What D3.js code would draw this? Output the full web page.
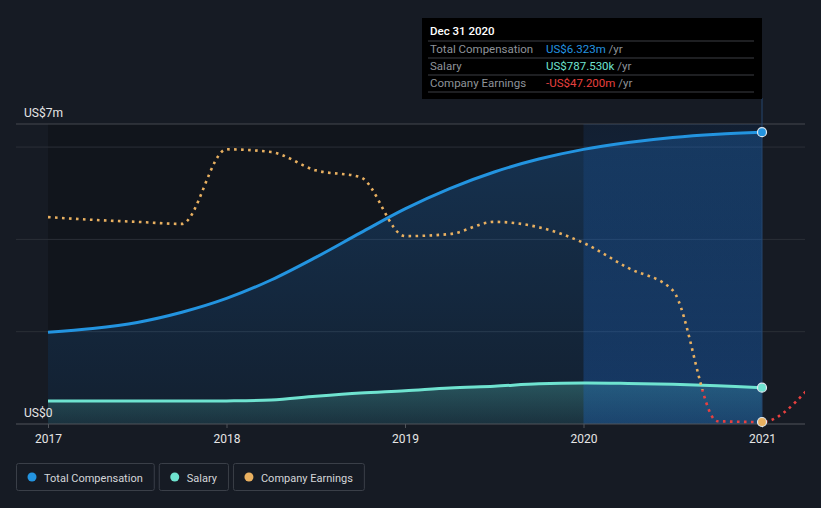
<!DOCTYPE html>
<html><head><meta charset="utf-8">
<script src="https://cdn.jsdelivr.net/npm/d3@7"></script>
<style>
html,body{margin:0;padding:0;background:#161b24;}
svg{display:block;font-family:Roboto,"Noto Sans",sans-serif;}
</style></head>
<body><svg id="c" width="821" height="508"></svg>
<script>
// ---- data ----
const quarters = [2017.00,2017.25,2017.50,2017.75,2018.00,2018.25,2018.50,2018.75,2019.00,2019.25,2019.50,2019.75,2020.00,2020.25,2020.50,2020.75,2021.00];
const totalComp = [1.99,2.07,2.20,2.42,2.72,3.12,3.61,4.14,4.66,5.10,5.46,5.74,5.95,6.10,6.21,6.28,6.323];
const salary = [0.50,0.50,0.50,0.50,0.50,0.52,0.60,0.67,0.72,0.78,0.82,0.87,0.89,0.88,0.86,0.83,0.7875];
const earnQuarters = [2017.00,2017.25,2017.50,2017.75,2018.00,2018.25,2018.50,2018.75,2019.00,2019.25,2019.50,2019.75,2020.00,2020.25,2020.50,2020.75,2021.00,2021.25];
const earnings = [255,251,248,245,355,351,324,314,227,230,248,240,217,180,147,-46,-47.2,-1];
const xTicks = [2017,2018,2019,2020,2021];
const yGrid = [0,2,4,6,6.5];
const yTickLabels = [{v:6.5,t:"US$7m"},{v:0,t:"US$0"}];
const legendItems = [{name:"Total Compensation",color:"#2394e0"},{name:"Salary",color:"#6fe3d0"},{name:"Company Earnings",color:"#e9b060"}];
const tooltipTitle = "Dec 31 2020";
const tooltipRows = [
  {label:"Total Compensation", value:"US$6.323m", color:"#2394e0"},
  {label:"Salary", value:"US$787.530k", color:"#6fe3d0"},
  {label:"Company Earnings", value:"-US$47.200m", color:"#e8403f"}
];

// ---- layout ----
const svg = d3.select("#c");
const x = d3.scaleLinear().domain([2017,2021]).range([48,762]);
const y = d3.scaleLinear().domain([0,6.5]).range([424,124]);
const yE = d3.scaleLinear().domain([-47.2,0]).range([422,390]);
const left = 16, right = 805;

const defs = svg.append("defs");
const gTot = defs.append("linearGradient").attr("id","gTot").attr("x1",0).attr("y1",0).attr("x2",0).attr("y2",1);
gTot.append("stop").attr("offset","0%").attr("stop-color","#1f6fc0").attr("stop-opacity",0.32);
gTot.append("stop").attr("offset","100%").attr("stop-color","#1f6fc0").attr("stop-opacity",0.12);
const gSal = defs.append("linearGradient").attr("id","gSal").attr("x1",0).attr("y1",0).attr("x2",0).attr("y2",1);
gSal.append("stop").attr("offset","0%").attr("stop-color","#5fd6c6").attr("stop-opacity",0.28);
gSal.append("stop").attr("offset","100%").attr("stop-color","#5fd6c6").attr("stop-opacity",0.1);
const gHi = defs.append("linearGradient").attr("id","gHi").attr("x1",0).attr("y1",0).attr("x2",0).attr("y2",1);
gHi.append("stop").attr("offset","0%").attr("stop-color","#1c6ad0").attr("stop-opacity",0.12);
gHi.append("stop").attr("offset","100%").attr("stop-color","#1c6ad0").attr("stop-opacity",0.32);
const zeroY = yE(0);
const gE = defs.append("linearGradient").attr("id","gE").attr("gradientUnits","userSpaceOnUse")
  .attr("x1",0).attr("x2",0).attr("y1",100).attr("y2",440);
const f = (zeroY-100)/340;
gE.append("stop").attr("offset",0).attr("stop-color","#e9b060");
gE.append("stop").attr("offset",f).attr("stop-color","#e9b060");
gE.append("stop").attr("offset",f).attr("stop-color","#e8403f");
gE.append("stop").attr("offset",1).attr("stop-color","#e8403f");
defs.append("clipPath").attr("id","clip").append("rect").attr("x",left).attr("y",100).attr("width",right-left).attr("height",330);

// plot background
svg.append("rect").attr("x",x(2017)).attr("y",y(6.5)).attr("width",x(2021)-x(2017)).attr("height",y(0)-y(6.5)).attr("fill","#11151c");

// grid
svg.append("g").selectAll("line").data(yGrid.filter(v=>v>0)).join("line")
  .attr("x1",left).attr("x2",right).attr("y1",d=>y(d)).attr("y2",d=>y(d))
  .attr("stroke",d=>d===6.5?"#44484f":"#2b2f37").attr("stroke-width",1);

const totData = quarters.map((q,i)=>({x:q,v:totalComp[i]}));
const salData = quarters.map((q,i)=>({x:q,v:salary[i]}));
const earnData = earnQuarters.map((q,i)=>({x:q,v:earnings[i]}));

const curve = d3.curveCatmullRom.alpha(0.5);
const curveE = d3.curveMonotoneX;
svg.append("path").datum(totData).attr("fill","url(#gTot)")
  .attr("d",d3.area().x(d=>x(d.x)).y0(y(0)).y1(d=>y(d.v)).curve(curve));
svg.append("path").datum(salData).attr("fill","url(#gSal)")
  .attr("d",d3.area().x(d=>x(d.x)).y0(y(0)).y1(d=>y(d.v)).curve(curve));

// highlight
svg.append("rect").attr("x",x(2020)).attr("y",y(6.5)).attr("width",x(2021)-x(2020)).attr("height",y(0)-y(6.5)).attr("fill","url(#gHi)");

// baseline axis
const xAxis = d3.axisBottom(x).tickValues(xTicks).tickFormat(d3.format("d")).tickSize(4).tickPadding(6);
const ax = svg.append("g").attr("transform",`translate(0,${y(0)})`).call(xAxis);
ax.select(".domain").remove();
ax.selectAll(".tick line").attr("stroke","#50545b");
ax.selectAll(".tick text").attr("fill","#e6e6e6").attr("font-size",12).attr("font-family","Roboto,sans-serif");
svg.append("line").attr("x1",left).attr("x2",right).attr("y1",y(0)).attr("y2",y(0)).attr("stroke","#50545b");

// y labels
svg.append("g").selectAll("text").data(yTickLabels).join("text")
  .attr("x",24).attr("y",d=>y(d.v)-7).attr("fill","#e6e6e6").attr("font-size",12).text(d=>d.t);

// lines
svg.append("path").datum(totData).attr("fill","none").attr("stroke","#2394e0").attr("stroke-width",3)
  .attr("d",d3.line().x(d=>x(d.x)).y(d=>y(d.v)).curve(curve));
svg.append("path").datum(salData).attr("fill","none").attr("stroke","#6fe3d0").attr("stroke-width",3)
  .attr("d",d3.line().x(d=>x(d.x)).y(d=>y(d.v)).curve(curve));
svg.append("path").datum(earnData).attr("clip-path","url(#clip)").attr("fill","none").attr("stroke","url(#gE)")
  .attr("stroke-width",2.6).attr("stroke-dasharray","2.6 4.4")
  .attr("d",d3.line().x(d=>x(d.x)).y(d=>yE(d.v)).curve(curveE));

// vertical marker
svg.append("line").attr("x1",x(2021)).attr("x2",x(2021)).attr("y1",98).attr("y2",y(0)).attr("stroke","#24466e").attr("stroke-width",1);

// end dots
const last = quarters.length-1;
svg.append("circle").attr("cx",x(2021)).attr("cy",y(totalComp[last])).attr("r",4.5).attr("fill","#2394e0").attr("stroke","#dfe8f0").attr("stroke-width",1.2);
svg.append("circle").attr("cx",x(2021)).attr("cy",y(salary[last])).attr("r",4.5).attr("fill","#6fe3d0").attr("stroke","#dfe8f0").attr("stroke-width",1.2);
svg.append("circle").attr("cx",x(2021)).attr("cy",yE(earnings[earnQuarters.indexOf(2021)])).attr("r",4.5).attr("fill","#e9b060").attr("stroke","#dfe8f0").attr("stroke-width",1.2);

// tooltip
const tt = svg.append("g");
tt.append("rect").attr("x",422).attr("y",18).attr("width",340).attr("height",81).attr("fill","#000");
tt.append("text").attr("x",430).attr("y",35).attr("fill","#ffffff").attr("font-size",11.5).attr("font-weight",500).text(tooltipTitle);
tooltipRows.forEach((r,i)=>{
  const ly = 41 + i*17;
  tt.append("line").attr("x1",428).attr("x2",754).attr("y1",ly).attr("y2",ly).attr("stroke","#3c3f44");
  tt.append("text").attr("x",430).attr("y",ly+12).attr("fill","#8e9399").attr("font-size",11.5).text(r.label);
  const t = tt.append("text").attr("x",546).attr("y",ly+12).attr("font-size",11.5);
  t.append("tspan").attr("fill",r.color).text(r.value);
  t.append("tspan").attr("fill","#8e9399").text(" /yr");
});
tt.append("line").attr("x1",428).attr("x2",754).attr("y1",92).attr("y2",92).attr("stroke","#3c3f44");

// legend
const lg = svg.append("g");
let lx = 16;
legendItems.forEach(it=>{
  const g = lg.append("g");
  const txt = g.append("text").attr("x",lx+28).attr("y",481.5).attr("fill","#d4d6d9").attr("font-size",11).text(it.name);
  const w = txt.node().getComputedTextLength() + 39;
  g.insert("rect","text").attr("x",lx+0.5).attr("y",463.5).attr("width",w).attr("height",27).attr("rx",2)
    .attr("fill","none").attr("stroke","#3a3f48");
  g.append("circle").attr("cx",lx+16).attr("cy",477).attr("r",4.5).attr("fill",it.color);
  lx += w + 5;
});
</script></body></html>
